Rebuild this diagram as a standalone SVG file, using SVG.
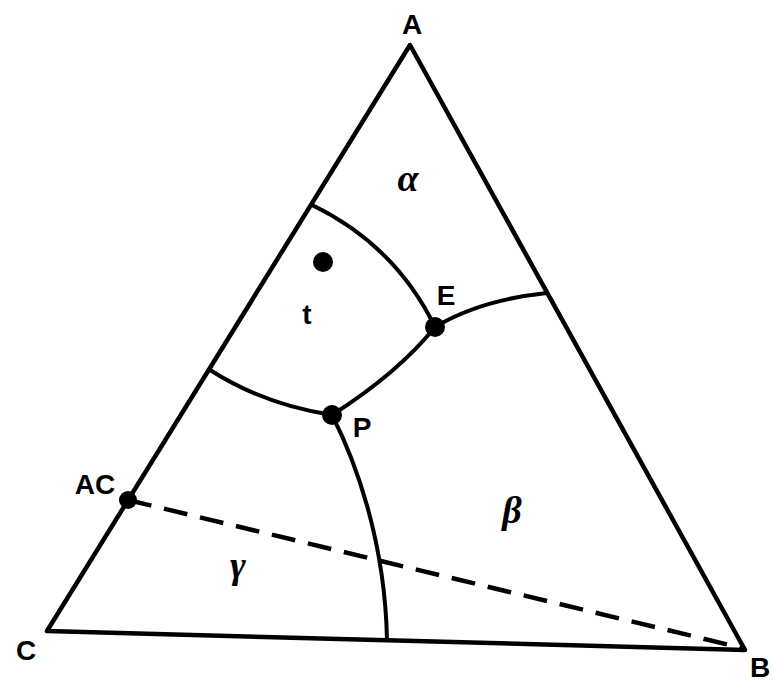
<svg xmlns="http://www.w3.org/2000/svg" width="773" height="685" viewBox="0 0 773 685">
<style>
.edge{fill:none;stroke:#000;stroke-width:4.5;stroke-linecap:round;stroke-linejoin:round}
.curve{fill:none;stroke:#000;stroke-width:4;stroke-linecap:round}
.dash{fill:none;stroke:#000;stroke-width:4.5;stroke-dasharray:24 13}
.dot{fill:#000}
.lbl{font-family:"Liberation Sans",Arial,sans-serif;font-weight:bold;font-size:28px;fill:#000}
.greek{font-family:"Liberation Serif","Times New Roman",serif;font-style:italic;font-weight:bold;font-size:38px;fill:#000}
</style>
<rect width="773" height="685" fill="#fff"/>
<g id="connectors">
<path class="edge" d="M410,45 L47,631 L745,650 Z"/>
<path class="curve" d="M312,205 Q395,245 435,327"/>
<path class="curve" d="M435,327 Q480,300 547,293"/>
<path class="curve" d="M435,327 Q398,373 332,415"/>
<path class="curve" d="M210,370 Q265,405 332,415"/>
<path class="curve" d="M332,415 C355,460 385,540 387,640"/>
<path class="dash" d="M128,500 L742,648"/>
</g>
<g id="vertex-A"><text class="lbl" x="412" y="34" text-anchor="middle">A</text></g>
<g id="vertex-B"><text class="lbl" x="750" y="677">B</text></g>
<g id="vertex-C"><text class="lbl" x="26" y="660" text-anchor="middle">C</text></g>
<g id="point-E"><circle class="dot" cx="435" cy="327" r="10"/><text class="lbl" x="446" y="305" text-anchor="middle">E</text></g>
<g id="point-P"><circle class="dot" cx="332" cy="415" r="10"/><text class="lbl" x="362" y="437" text-anchor="middle">P</text></g>
<g id="point-AC"><circle class="dot" cx="128" cy="500" r="9"/><text class="lbl" x="95" y="494" text-anchor="middle">AC</text></g>
<g id="point-t"><circle class="dot" cx="323" cy="262" r="10"/><text class="lbl" x="307" y="324" text-anchor="middle">t</text></g>
<g id="region-alpha"><text class="greek" x="408" y="191" text-anchor="middle">α</text></g>
<g id="region-beta"><text class="greek" x="512" y="523" text-anchor="middle">β</text></g>
<g id="region-gamma"><text class="greek" x="238" y="578" text-anchor="middle">γ</text></g>
</svg>
